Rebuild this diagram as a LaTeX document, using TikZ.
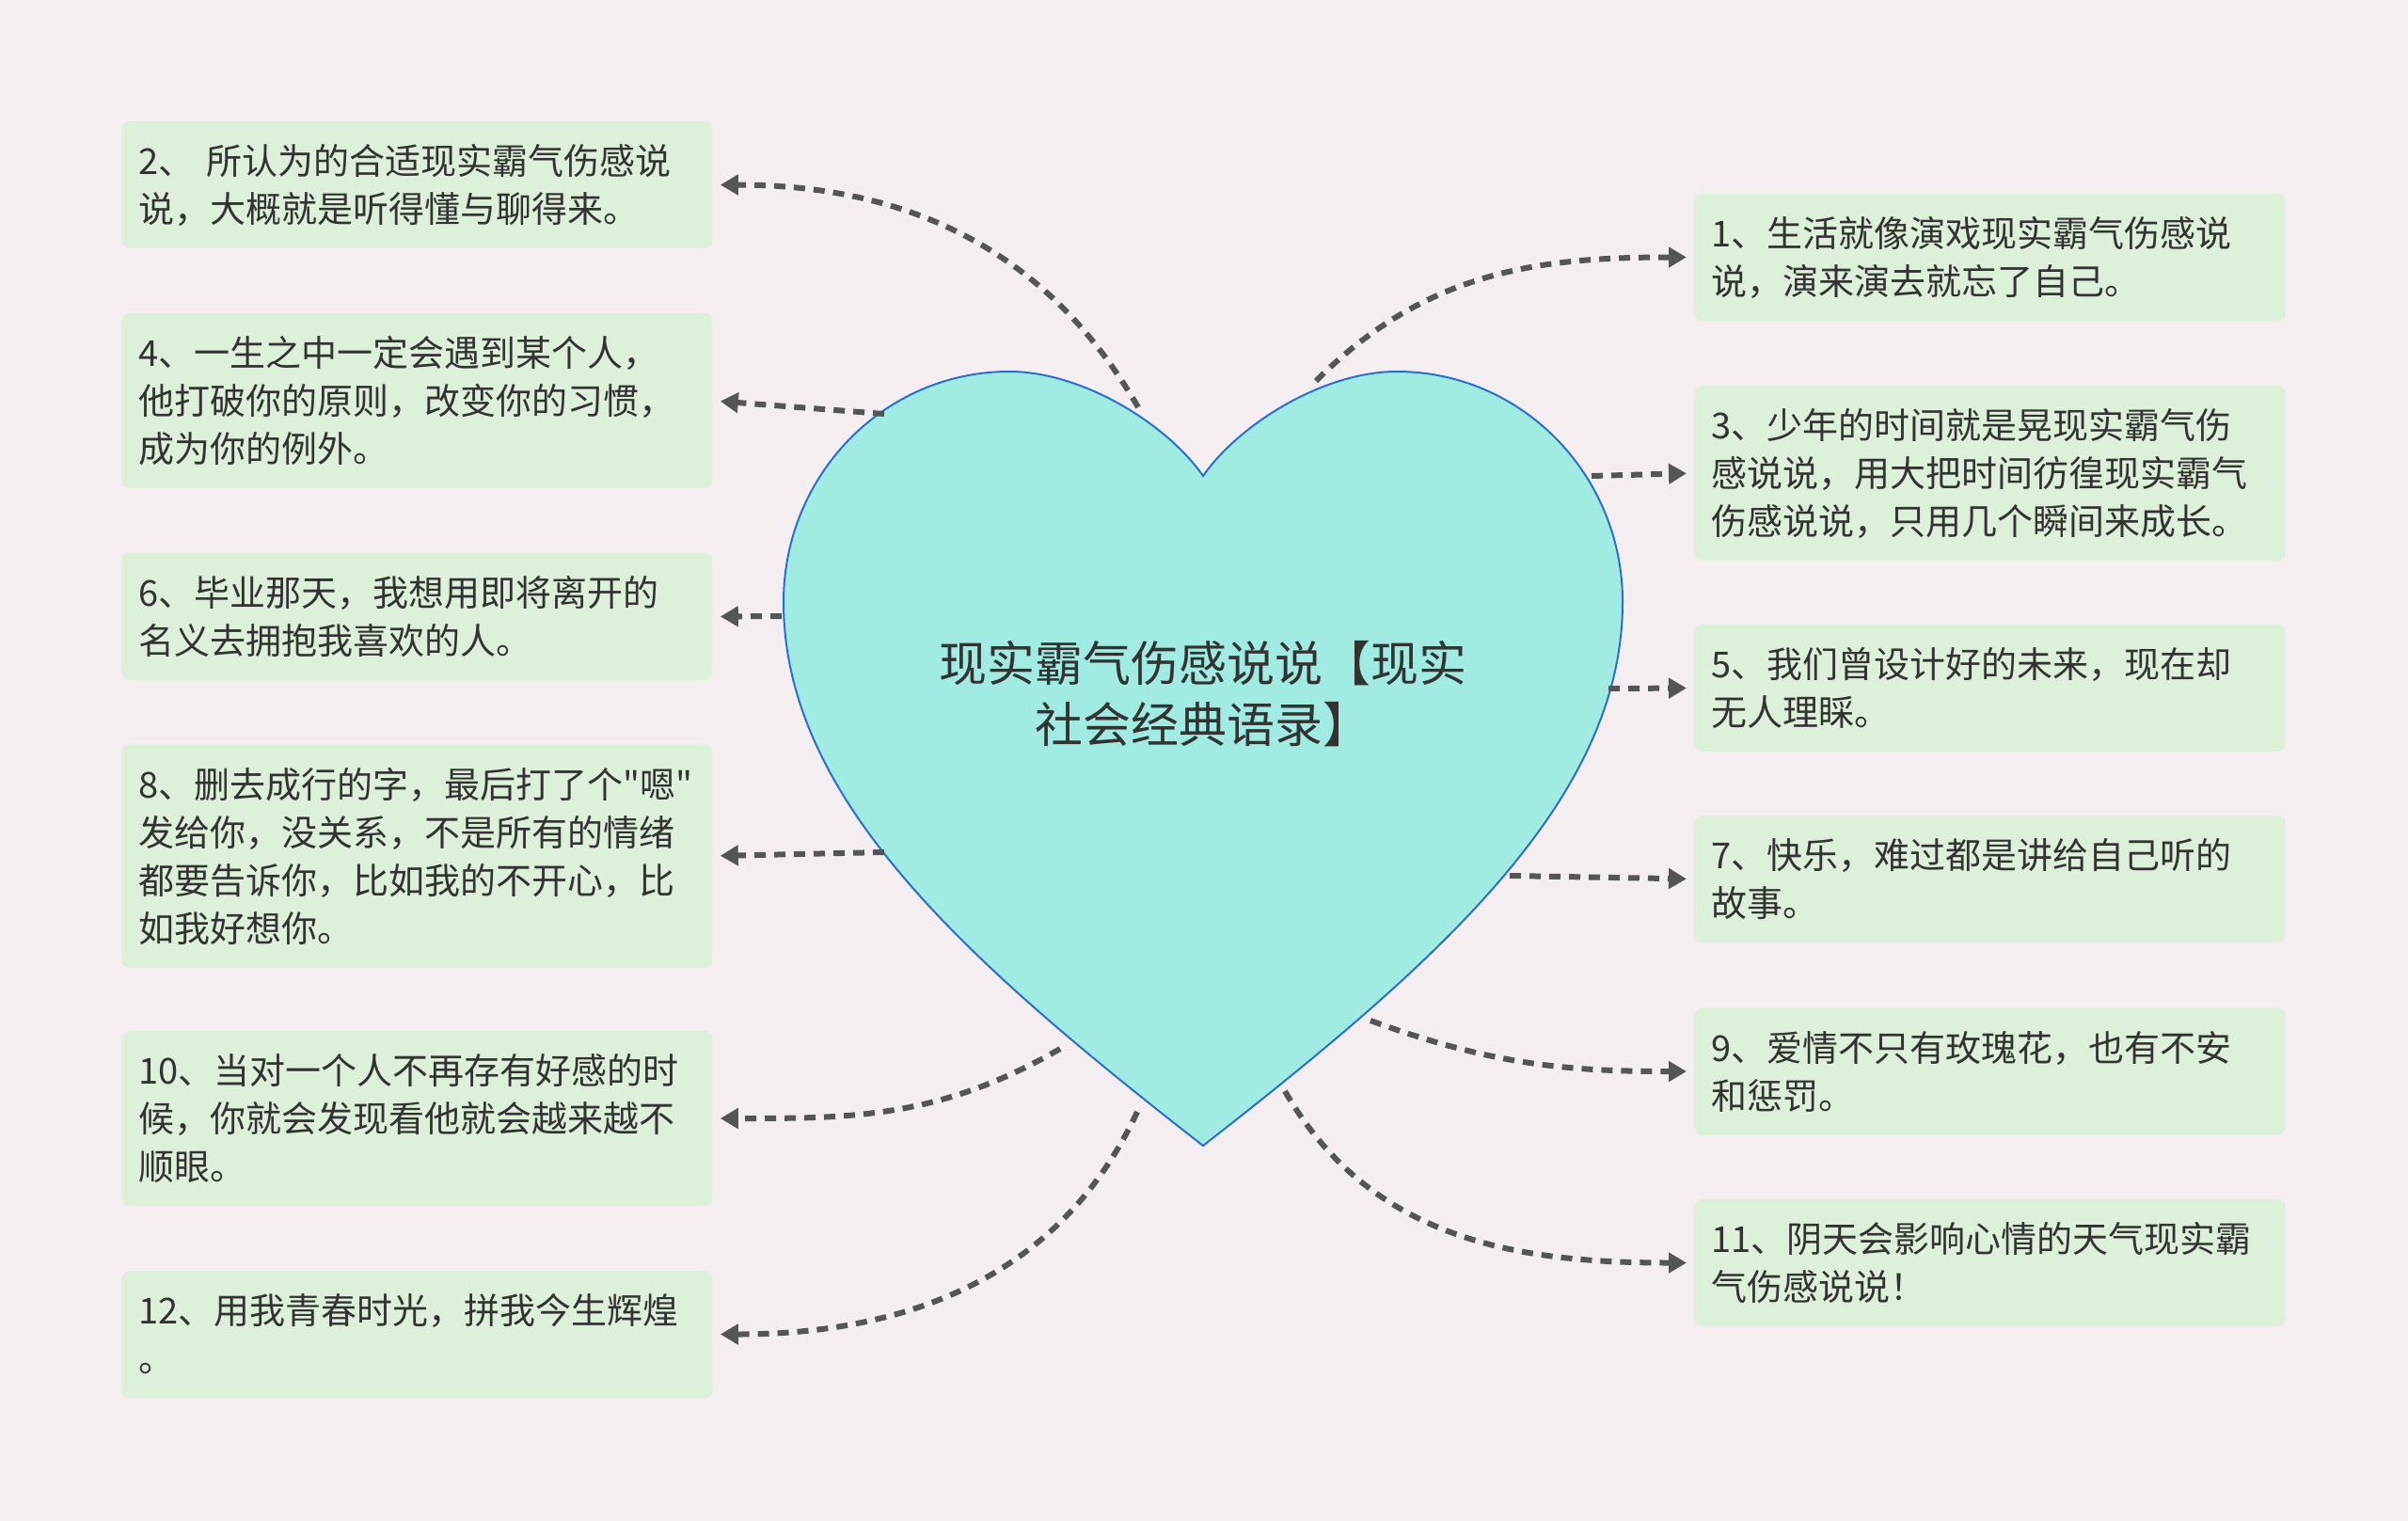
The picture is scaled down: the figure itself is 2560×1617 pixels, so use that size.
\documentclass[tikz,border=0pt]{standalone}
\usepackage{fontspec}
\newfontfamily\cjk{Noto Sans CJK SC}
\usetikzlibrary{arrows.meta}
\definecolor{bgpink}{HTML}{F5EEF0}
\definecolor{boxgreen}{HTML}{DDF0D9}
\definecolor{heartfill}{HTML}{A0EBE2}
\definecolor{heartline}{HTML}{2A6FD0}
\definecolor{txtgray}{HTML}{333333}
\definecolor{linkgray}{HTML}{555555}

\begin{document}
\begin{tikzpicture}[x=0.5pt, y=0.5pt,
    quote/.style={rectangle, fill=boxgreen, rounded corners=4pt, text width=296pt, align=left, inner xsep=9pt, inner ysep=0pt, minimum height=#1, anchor=west, text=txtgray, font=\cjk\fontsize{19pt}{25.5pt}\selectfont},
    title/.style={align=center, text=txtgray, font=\cjk\fontsize{25.5pt}{32.5pt}\selectfont},
    heart/.style={fill=heartfill, draw=heartline, line width=1pt},
    link/.style={-{Triangle[length=9.5pt,width=10.5pt]}, draw=linkgray, line width=3pt, dash pattern=on 6pt off 4.5pt, shorten >=4pt}
]

% Background
\fill[bgpink] (0,0) rectangle (2560,-1617);
\useasboundingbox (0,0) rectangle (2560,-1617);

% Heart
\path[heart] (1279,-506) .. controls (1240,-450) and (1150,-395) .. (1073,-395)
  .. controls (940,-395) and (833,-505) .. (833,-640)
  .. controls (833,-850) and (1029,-1023) .. (1279,-1218)
  .. controls (1529,-1023) and (1725,-850) .. (1725,-640)
  .. controls (1725,-505) and (1618,-395) .. (1485,-395)
  .. controls (1408,-395) and (1318,-450) .. (1279,-506) -- cycle;
\node[title] (center) at (1279,-738) {现实霸气伤感说说【现实\\社会经典语录】};

% Points on the heart
\coordinate (c1) at (1399,-405);
\coordinate (c2) at (1210,-433);
\coordinate (c3) at (1692,-506);
\coordinate (c4) at (940,-440);
\coordinate (c5) at (1710,-732);
\coordinate (c6) at (831,-655);
\coordinate (c7) at (1605,-931);
\coordinate (c8) at (940,-906);
\coordinate (c9) at (1457,-1085);
\coordinate (c10) at (1127,-1115);
\coordinate (c11) at (1366,-1160);
\coordinate (c12) at (1209,-1182);

% Left quotes
\node[quote=67.5pt] (q2) at (129,-196.5) {2、 所认为的合适现实霸气伤感说\\说，大概就是听得懂与聊得来。};
\node[quote=93pt] (q4) at (129,-426) {4、一生之中一定会遇到某个人，\\他打破你的原则，改变你的习惯，\\成为你的例外。};
\node[quote=67.5pt] (q6) at (129,-655.5) {6、毕业那天，我想用即将离开的\\名义去拥抱我喜欢的人。};
\node[quote=118.5pt] (q8) at (129,-910) {8、删去成行的字，最后打了个"嗯"\\发给你，没关系，不是所有的情绪\\都要告诉你，比如我的不开心，比\\如我好想你。};
\node[quote=93pt] (q10) at (129,-1189) {10、当对一个人不再存有好感的时\\候，你就会发现看他就会越来越不\\顺眼。};
\node[quote=67.5pt] (q12) at (129,-1418.5) {12、用我青春时光，拼我今生辉煌\\。};

% Right quotes
\node[quote=67.5pt] (q1) at (1801,-273.5) {1、生活就像演戏现实霸气伤感说\\说，演来演去就忘了自己。};
\node[quote=93pt] (q3) at (1801,-503) {3、少年的时间就是晃现实霸气伤\\感说说，用大把时间彷徨现实霸气\\伤感说说，只用几个瞬间来成长。};
\node[quote=67.5pt] (q5) at (1801,-731.5) {5、我们曾设计好的未来，现在却\\无人理睬。};
\node[quote=67.5pt] (q7) at (1801,-934.5) {7、快乐，难过都是讲给自己听的\\故事。};
\node[quote=67.5pt] (q9) at (1801,-1139) {9、爱情不只有玫瑰花，也有不安\\和惩罚。};
\node[quote=67.5pt] (q11) at (1801,-1342.5) {11、阴天会影响心情的天气现实霸\\气伤感说说！};

% Links
\draw[link] (c2) to[out=120, in=0] (q2.east);
\draw[link] (c4) -- (q4.east);
\draw[link] (c6) -- (q6.east);
\draw[link] (c8) -- (q8.east);
\draw[link] (c10) to[out=-150, in=0] (q10.east);
\draw[link] (c12) to[out=-115, in=0] (q12.east);
\draw[link] (c1) to[out=45, in=180] (q1.west);
\draw[link] (c3) -- (q3.west);
\draw[link] (c5) -- (q5.west);
\draw[link] (c7) -- (q7.west);
\draw[link] (c9) to[out=-20, in=180] (q9.west);
\draw[link] (c11) to[out=-60, in=180] (q11.west);

\end{tikzpicture}
\end{document}
